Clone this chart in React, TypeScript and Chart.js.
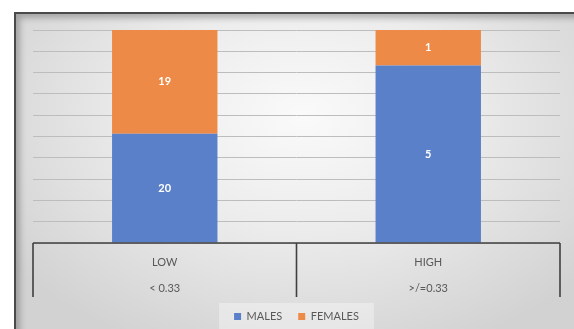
import { useEffect, useRef } from "react";
import { Chart, registerables } from "chart.js";

Chart.register(...registerables);

const groupNames = ["LOW", "HIGH"];
const thresholds = ["< 0.33", ">/=0.33"];
const seriesNames = ["MALES", "FEMALES"];
const males = [20, 5];
const females = [19, 1];

const BLUE = "#5A80CA";
const ORANGE = "#EE8A48";
const FONT = "Lato, 'Open Sans', sans-serif";

const totals = males.map((m, i) => m + females[i]);
const malesPct = males.map((m, i) => (m / totals[i]) * 100);
const femalesPct = females.map((f, i) => (f / totals[i]) * 100);
const counts = [males, females];

const decorPlugin = {
  id: "decor",
  afterLayout(chart: any) {
    const lg = chart.legend;
    if (lg) {
      lg.top += 3;
      lg.bottom += 3;
    }
  },
  beforeDraw(chart: any) {
    const lg = chart.legend;
    if (lg && lg.legendHitBoxes && lg.legendHitBoxes.length) {
      const boxes = lg.legendHitBoxes;
      const l = Math.min(...boxes.map((b: any) => b.left)) - 15;
      const r = Math.max(...boxes.map((b: any) => b.left + b.width)) + 15;
      const t = lg.top + 8;
      const ctx = chart.ctx;
      ctx.save();
      ctx.fillStyle = "rgba(255,255,255,0.35)";
      ctx.fillRect(l, t, r - l, chart.height - t);
      ctx.restore();
    }
  },
  afterDatasetsDraw(chart: any) {
    const ctx = chart.ctx;
    const xs = chart.scales.x;
    const bottom = chart.chartArea.bottom;
    ctx.save();
    // data labels
    ctx.fillStyle = "#ffffff";
    ctx.font = `bold 11px ${FONT}`;
    ctx.textAlign = "center";
    ctx.textBaseline = "middle";
    chart.data.datasets.forEach((ds: any, di: number) => {
      const meta = chart.getDatasetMeta(di);
      meta.data.forEach((el: any, i: number) => {
        const p = el.getProps(["x", "y", "base"], true);
        ctx.fillText(String(counts[di][i]), p.x, (p.y + p.base) / 2);
      });
    });
    // axis line and category separators
    ctx.strokeStyle = "#404040";
    ctx.lineWidth = 1.6;
    ctx.beginPath();
    ctx.moveTo(xs.left, bottom);
    ctx.lineTo(xs.right, bottom);
    const n = groupNames.length;
    const bounds: number[] = [xs.left];
    for (let i = 0; i < n - 1; i++) {
      bounds.push((xs.getPixelForValue(i) + xs.getPixelForValue(i + 1)) / 2);
    }
    bounds.push(xs.right);
    bounds.forEach((bx) => {
      ctx.moveTo(bx, bottom);
      ctx.lineTo(bx, bottom + 54);
    });
    ctx.stroke();
    ctx.restore();
  },
};

export default function App() {
  const ref = useRef<HTMLCanvasElement>(null);
  useEffect(() => {
    const chart = new Chart(ref.current!, {
      type: "bar",
      data: {
        labels: groupNames.map((g, i) => [g, thresholds[i]]),
        datasets: [
          {
            label: seriesNames[0],
            data: malesPct,
            backgroundColor: BLUE,
            barPercentage: 0.4,
            categoryPercentage: 1,
          },
          {
            label: seriesNames[1],
            data: femalesPct,
            backgroundColor: ORANGE,
            barPercentage: 0.4,
            categoryPercentage: 1,
          },
        ],
      },
      options: {
        animation: false,
        responsive: false,
        layout: { padding: { left: 33, right: 14, top: 30, bottom: 0 } },
        plugins: {
          tooltip: { enabled: false },
          legend: {
            position: "bottom",
            labels: {
              boxWidth: 7,
              boxHeight: 7,
              padding: 16,
              color: "#595959",
              font: { family: FONT, size: 11 },
            },
          },
        },
        scales: {
          x: {
            stacked: true,
            grid: { display: false, drawTicks: false },
            border: { display: false },
            ticks: {
              padding: 6,
              color: "#595959",
              font: { family: FONT, size: 11, lineHeight: 26 / 11 },
              maxRotation: 0,
            },
            afterFit(scale: any) {
              scale.height = 49;
            },
          },
          y: {
            stacked: true,
            min: 0,
            max: 100,
            ticks: { display: false, stepSize: 10 },
            grid: { color: "#bdbdbd", lineWidth: 1, drawTicks: false },
            border: { display: false },
          },
        },
      },
      plugins: [decorPlugin],
    } as any);
    return () => chart.destroy();
  }, []);

  return (
    <div style={{ position: "fixed", left: 0, top: 0, width: 574, height: 329, background: "#ffffff", overflow: "hidden" }}>
      <div
        style={{
          position: "absolute",
          left: 14,
          top: 12,
          width: 600,
          height: 340,
          boxSizing: "border-box",
          borderLeft: "2px solid #4a4a4a",
          borderTop: "2px solid #4a4a4a",
          background: "radial-gradient(ellipse 60% 75% at 48% 30%, #fafafa 0%, #ececec 45%, #d2d2d2 100%)",
          boxShadow: "inset 4px 4px 6px rgba(0,0,0,0.25)",
        }}
      />
      <canvas ref={ref} width={574} height={329} style={{ position: "absolute", left: 0, top: 0, width: 574, height: 329 }} />
    </div>
  );
}
